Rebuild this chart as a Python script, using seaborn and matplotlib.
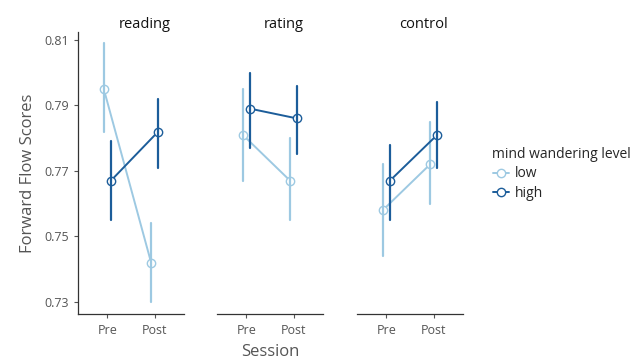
import numpy as np
import pandas as pd
import matplotlib
matplotlib.use("Agg")
import matplotlib.pyplot as plt
import seaborn as sns

# ---------------------------------------------------------------------------
# Data: means and CI bounds per cell
# ---------------------------------------------------------------------------
conditions = ["reading", "rating", "control"]
sessions = ["Pre", "Post"]
levels = ["low", "high"]

mean_low = {"reading": [0.795, 0.742], "rating": [0.781, 0.767], "control": [0.758, 0.772]}
mean_high = {"reading": [0.767, 0.782], "rating": [0.789, 0.786], "control": [0.767, 0.781]}
lo_low = {"reading": [0.782, 0.730], "rating": [0.767, 0.755], "control": [0.744, 0.760]}
lo_high = {"reading": [0.755, 0.771], "rating": [0.777, 0.775], "control": [0.755, 0.771]}
hi_low = {"reading": [0.809, 0.754], "rating": [0.795, 0.780], "control": [0.772, 0.785]}
hi_high = {"reading": [0.779, 0.792], "rating": [0.800, 0.796], "control": [0.778, 0.791]}

y_ticks = [0.73, 0.75, 0.77, 0.79, 0.81]
palette = {"low": "#9dc9e2", "high": "#1c5d9a"}

# long table: lower bound, mean, upper bound per cell -> median + full range
rows = []
for cond in conditions:
    for lev, m, lo, hi in [("low", mean_low, lo_low, hi_low),
                           ("high", mean_high, lo_high, hi_high)]:
        for i, s in enumerate(sessions):
            for v in (lo[cond][i], m[cond][i], hi[cond][i]):
                rows.append({"condition": cond, "level": lev, "session": s, "score": v})
df = pd.DataFrame(rows)

# ---------------------------------------------------------------------------
# Plot
# ---------------------------------------------------------------------------
sns.set_style("white")
plt.rcParams["font.family"] = ["Open Sans", "DejaVu Sans"]

fig = plt.figure(figsize=(6.35, 3.62), dpi=100)
lefts = [78 / 635, 217 / 635, 357 / 635]
bottom = 1 - 314 / 362
height = (314 - 32) / 362
width = 106 / 635
grey = "#555555"

axes = []
for k, cond in enumerate(conditions):
    ax = fig.add_axes([lefts[k], bottom, width, height])
    axes.append(ax)
    sub = df[df["condition"] == cond]
    sns.pointplot(data=sub, x="session", y="score", hue="level",
                  order=sessions, hue_order=levels, palette=palette,
                  estimator="median", errorbar=("pi", 100),
                  dodge=0.15, markers="o", markersize=6,
                  markerfacecolor="white", markeredgewidth=1.0,
                  linewidth=1.4, err_kws={"linewidth": 1.6},
                  ax=ax, legend=(k == 0))
    ax.set_ylim(0.7263, 0.8124)
    ax.set_xlim(-0.62, 1.62)
    ax.set_title(cond, x=0.63, fontsize=10.5, color="#111111", pad=3)
    ax.set_xlabel("")
    ax.tick_params(axis="x", colors=grey, labelsize=9, length=3, width=0.8,
                   bottom=True, pad=4)
    sns.despine(ax=ax, left=(k != 0))
    ax.spines["bottom"].set_color("#333333")
    ax.spines["bottom"].set_linewidth(0.9)
    if k == 0:
        ax.set_yticks(y_ticks)
        ax.set_yticklabels([f"{t:.2f}" for t in y_ticks])
        ax.tick_params(axis="y", colors=grey, labelsize=9, length=3, width=0.8,
                       left=True)
        ax.spines["left"].set_color("#333333")
        ax.spines["left"].set_linewidth(0.9)
        ax.set_ylabel("Forward Flow Scores", fontsize=12, color=grey, labelpad=6)
    else:
        ax.set_yticks([])
        ax.set_ylabel("")

axes[1].set_xlabel("Session", fontsize=12, color=grey, labelpad=5)

handles, labels = axes[0].get_legend_handles_labels()
axes[0].get_legend().remove()
leg = fig.legend(handles, labels, title="mind wandering level",
                 loc="upper left", bbox_to_anchor=(480 / 635, 1 - 134 / 362),
                 frameon=False, fontsize=10, title_fontsize=10,
                 handlelength=1.2, handletextpad=0.4, labelspacing=0.35,
                 alignment="left")

fig.savefig("out.png", dpi=100)
